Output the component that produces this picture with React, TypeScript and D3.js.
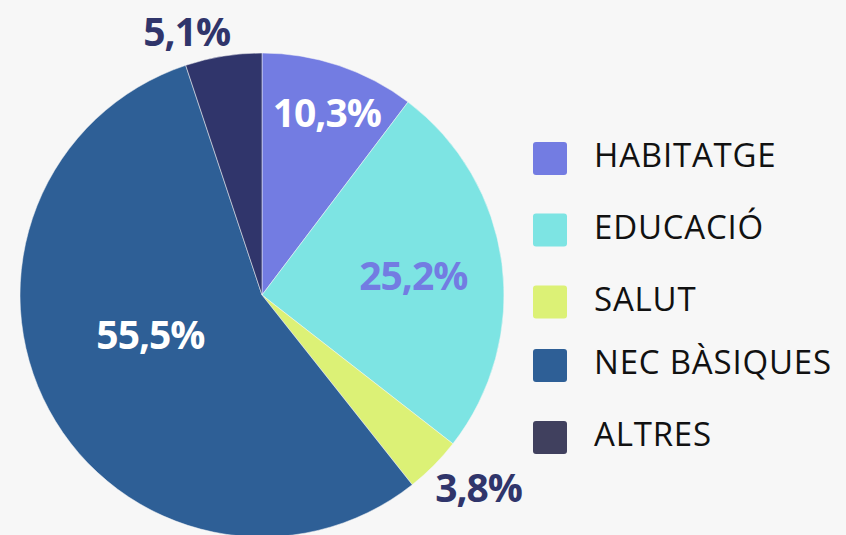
import React from "react";
import * as d3 from "d3";

const categories = ["HABITATGE", "EDUCACIÓ", "SALUT", "NEC BÀSIQUES", "ALTRES"];
const values = [10.3, 25.2, 3.8, 55.5, 5.1];
const labels = ["10,3%", "25,2%", "3,8%", "55,5%", "5,1%"];
const sliceColors = ["#737ce2", "#7de4e3", "#dcf176", "#2e5f96", "#30356b"];
const legendColors = ["#737ce2", "#7de4e3", "#dcf176", "#2e5f96", "#40405e"];
const labelColors = ["#ffffff", "#737ce2", "#30356b", "#ffffff", "#30356b"];

const W = 846;
const H = 535;
const cx = 262;
const cy = 295;
const R = 242;

// label placement: radius factor and angle adjustment (degrees)
const labelPlacement = [
  { rf: 0.8, da: 1 },
  { rf: 0.63, da: 0.4 },
  { rf: 1.2, da: -3 },
  { rf: 0.49, da: 8.6 },
  { rf: 1.13, da: -6.8 },
];

const legendY = [158.5, 230, 302, 365.5, 437.5];

export default function App() {
  const pie = d3
    .pie<number>()
    .sort(null)
    .value((d) => d);
  const arcs = pie(values);
  const arc = d3.arc<d3.PieArcDatum<number>>().innerRadius(0).outerRadius(R);

  return (
    <svg
      width={W}
      height={H}
      style={{ position: "absolute", left: 0, top: 0, background: "#f7f7f7" }}
    >
      <rect x={0} y={0} width={W} height={H} fill="#f7f7f7" />
      <g transform={`translate(${cx},${cy})`}>
        {arcs.map((a, i) => (
          <path
            key={categories[i]}
            d={arc(a) || ""}
            fill={sliceColors[i]}
            stroke="#f7f7f7"
            strokeWidth={0.5}
          />
        ))}
        {arcs.map((a, i) => {
          const p = labelPlacement[i];
          const mid = (a.startAngle + a.endAngle) / 2 + (p.da * Math.PI) / 180;
          const r = R * p.rf;
          const x = Math.sin(mid) * r;
          const y = -Math.cos(mid) * r;
          return (
            <text
              key={"l" + i}
              x={x}
              y={y + 14}
              textAnchor="middle"
              fill={labelColors[i]}
              fontFamily="'Open Sans', sans-serif"
              fontWeight={700}
              fontSize={39}
              letterSpacing={-1}
            >
              {labels[i]}
            </text>
          );
        })}
      </g>
      <g>
        {categories.map((c, i) => (
          <g key={"lg" + i} transform={`translate(533,${legendY[i]})`}>
            <rect
              x={0}
              y={-16.5}
              width={34}
              height={33}
              rx={3}
              fill={legendColors[i]}
            />
            <text
              x={61}
              y={8.5}
              fill="#111111"
              fontFamily="'Open Sans', sans-serif"
              fontSize={33}
              letterSpacing={0.8}
            >
              {c}
            </text>
          </g>
        ))}
      </g>
    </svg>
  );
}
